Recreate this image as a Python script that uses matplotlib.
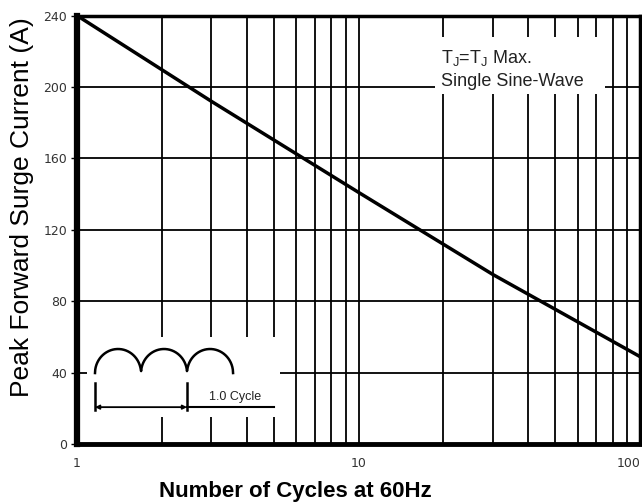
import numpy as np
import matplotlib
matplotlib.use("Agg")
import matplotlib.pyplot as plt
from matplotlib.ticker import FixedLocator, NullFormatter

# surge current curve
cycles = [1, 3, 10, 30, 100]
current = [240, 192, 141, 95, 49]

y_ticks = [0, 40, 80, 120, 160, 200, 240]
x_ticks = [1, 10, 100]
x_labels = ["1", "10", "100"]

plt.rcParams['font.family'] = ['Liberation Sans', 'DejaVu Sans']

fig = plt.figure(figsize=(6.42, 5.03), dpi=100)
ax = fig.add_axes([0.120, 0.117, 0.877, 0.852])

ax.plot(cycles, current, color='black', lw=2.5, zorder=3)

ax.set_xscale('log')
ax.set_xlim(1, 100)
ax.set_ylim(0, 240)

ax.xaxis.set_major_locator(FixedLocator(x_ticks))
ax.xaxis.set_minor_locator(FixedLocator([2, 3, 4, 5, 6, 7, 8, 9, 20, 30, 40, 50, 60, 70, 80, 90]))
ax.xaxis.set_minor_formatter(NullFormatter())
ax.set_xticklabels(x_labels)
ax.get_xticklabels()[-1].set_horizontalalignment('right')
ax.get_xticklabels()[-1].set_x(1.0)
ax.set_yticks(y_ticks)

ax.grid(True, which='both', axis='x', color='black', lw=1.3, zorder=1)
ax.grid(True, which='major', axis='y', color='black', lw=1.3, zorder=1)

ax.tick_params(axis='x', which='both', length=0, pad=9, labelsize=9,
               labelcolor='#333333', labelfontfamily='DejaVu Sans')
ax.tick_params(axis='y', length=4, width=1, pad=3, labelsize=9,
               labelcolor='#333333', labelfontfamily='DejaVu Sans')

for side, w in [('left', 4.5), ('bottom', 3.5), ('top', 2.5), ('right', 2.5)]:
    ax.spines[side].set_linewidth(w)

ax.set_ylabel("Peak Forward Surge Current (A)", fontsize=19)
ax.yaxis.set_label_coords(-0.076, 0.553)
ax.set_xlabel("Number of Cycles at 60Hz", fontsize=16, fontweight='bold')
ax.xaxis.set_label_coords(0.387, -0.085)

# condition note on a white patch that hides the grid behind it
ax.add_patch(plt.Rectangle((0.636, 0.816), 0.302, 0.135, transform=ax.transAxes,
                           fc='white', ec='none', zorder=2))
ax.text(0.646, 0.875, "T$_{\\mathregular{J}}$=T$_{\\mathregular{J}}$ Max.\nSingle Sine-Wave",
        transform=ax.transAxes, fontsize=13, color='#222222', va='center', ha='left',
        linespacing=1.35, zorder=4)

# waveform sketch in the lower left corner
ins = fig.add_axes([87 / 642, 1 - 417 / 503, 193 / 642, 80 / 503])
ins.set_xlim(-0.087, 2.01)
ins.set_ylim(-1.83, 1.5)
ins.axis('off')
ins.add_patch(plt.Rectangle((0, 0), 1, 1, transform=ins.transAxes,
                            fc='white', ec='none', zorder=0))
t = np.linspace(0, 1.5, 600)
ph = (t % 0.5 - 0.25) / 0.25
ins.plot(t, np.sqrt(np.clip(1 - ph ** 2, 0, 1)), color='black', lw=1.8)
ins.plot([0, 0], [-0.42, -1.55], color='black', lw=1.8)
ins.plot([1, 1], [-0.42, -1.55], color='black', lw=1.8)
ins.plot([1, 1.95], [-1.42, -1.42], color='black', lw=1.5)
ins.annotate("", xy=(0, -1.42), xytext=(1, -1.42),
             arrowprops=dict(arrowstyle='<|-|>', color='black', lw=1.3,
                             mutation_scale=6, shrinkA=0, shrinkB=0))
ins.text(1.24, -1.0, "1.0 Cycle", fontsize=9, color='#222222', va='center', ha='left')

fig.savefig("out.png", dpi=100)
